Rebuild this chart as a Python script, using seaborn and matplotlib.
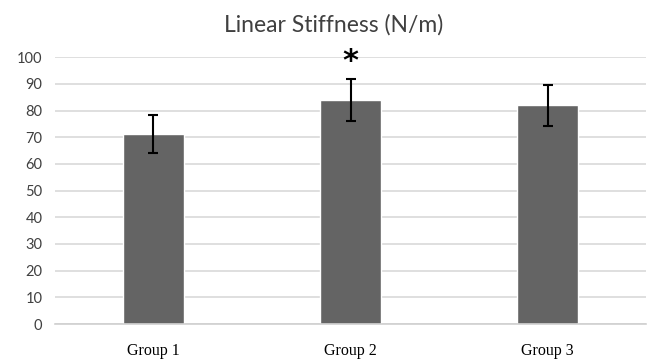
import matplotlib
matplotlib.use("Agg")
import matplotlib.pyplot as plt
import pandas as pd
import seaborn as sns

groups = ["Group 1", "Group 2", "Group 3"]
means = [71.3, 84.0, 82.0]
errors = [7.1, 8.0, 7.7]
star_group = "Group 2"
star_y = 98.5

df = pd.DataFrame({"group": groups, "stiffness": means})

sns.set_style("white")
fig, ax = plt.subplots(figsize=(6.54, 3.6), dpi=100)
fig.subplots_adjust(left=0.084, right=0.988, bottom=0.1, top=0.841)

sns.barplot(data=df, x="group", y="stiffness", color="#646464", saturation=1,
            width=0.31, errorbar=None, ax=ax, zorder=2)
ax.errorbar(groups, means, yerr=errors, fmt="none", ecolor="black",
            elinewidth=1.5, capsize=3.8, capthick=1.5, zorder=3)

ax.set_xlim(-0.5, len(groups) - 0.5)
ax.set_ylim(0, 100)
ax.set_yticks(range(0, 101, 10))
ax.yaxis.grid(True, color="#d9d9d9", linewidth=1.2, zorder=0)
ax.set_axisbelow(True)
for s in ["top", "right", "left"]:
    ax.spines[s].set_visible(False)
ax.spines["bottom"].set_color("#d0d0d0")
ax.spines["bottom"].set_linewidth(1.2)

ax.set_xlabel("")
ax.set_ylabel("")
ax.tick_params(axis="both", length=0)
ax.tick_params(axis="y", pad=9, labelsize=10.5, labelcolor="#404040")
ax.tick_params(axis="x", pad=14, labelsize=11.5, labelcolor="black")
for lab in ax.get_yticklabels():
    lab.set_family(["Lato", "DejaVu Sans"])
for lab in ax.get_xticklabels():
    lab.set_family(["Liberation Serif", "DejaVu Serif"])

ax.text(groups.index(star_group), star_y, "*", ha="center", va="center",
        fontsize=22, fontweight="bold", color="black", clip_on=False)

fig.suptitle("Linear Stiffness (N/m)", x=0.51, y=0.96, fontsize=16.5,
             color="#404040", family=["Lato", "DejaVu Sans"])

fig.savefig("out.png", dpi=100)
